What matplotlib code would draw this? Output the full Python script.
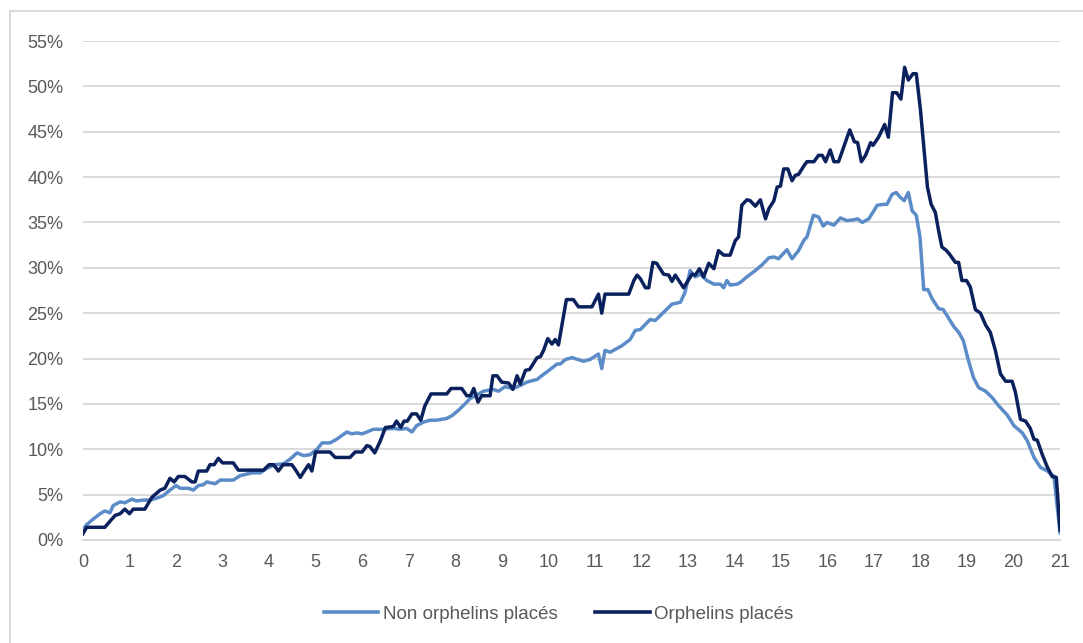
import matplotlib
matplotlib.use('Agg')
import matplotlib.pyplot as plt
from matplotlib.patches import Rectangle
from matplotlib.ticker import FuncFormatter, MultipleLocator

plt.rcParams['font.family'] = ['Liberation Sans Narrow', 'Liberation Sans', 'DejaVu Sans']

# Orphelins placés (en %)
orph_x = [0.0, 0.08, 0.47, 0.57, 0.69, 0.8, 0.9, 1.0, 1.08, 1.33, 1.48, 1.66, 1.76, 1.87, 1.96,
          2.05, 2.19, 2.34, 2.41, 2.48, 2.66, 2.73, 2.82, 2.91, 3.0, 3.23, 3.34, 3.88, 4.0, 4.1,
          4.2, 4.3, 4.49, 4.56, 4.67, 4.77, 4.85, 4.92, 5.0, 5.31, 5.42, 5.74, 5.85, 6.0, 6.1,
          6.17, 6.27, 6.39, 6.5, 6.67, 6.74, 6.83, 6.9, 6.97, 7.07, 7.17, 7.26, 7.35, 7.48, 7.82,
          7.91, 8.14, 8.25, 8.33, 8.4, 8.49, 8.57, 8.75, 8.81, 8.9, 9.0, 9.15, 9.24, 9.33, 9.4,
          9.51, 9.6, 9.76, 9.83, 9.9, 9.99, 10.08, 10.15, 10.22, 10.39, 10.54, 10.65, 10.94, 11.08,
          11.15, 11.22, 11.73, 11.84, 11.91, 11.98, 12.09, 12.16, 12.25, 12.33, 12.48, 12.59, 12.66,
          12.73, 12.91, 13.09, 13.16, 13.25, 13.34, 13.45, 13.56, 13.66, 13.77, 13.91, 14.02, 14.09,
          14.16, 14.27, 14.34, 14.45, 14.56, 14.67, 14.74, 14.85, 14.92, 14.99, 15.06, 15.15, 15.24,
          15.31, 15.38, 15.49, 15.56, 15.71, 15.81, 15.89, 15.96, 16.06, 16.14, 16.24, 16.35, 16.48,
          16.58, 16.65, 16.73, 16.82, 16.93, 16.98, 17.1, 17.23, 17.31, 17.4, 17.49, 17.58, 17.66,
          17.74, 17.84, 17.91, 18.0, 18.08, 18.15, 18.23, 18.32, 18.39, 18.46, 18.56, 18.64, 18.75,
          18.82, 18.89, 18.99, 19.07, 19.18, 19.29, 19.4, 19.5, 19.61, 19.72, 19.83, 19.97, 20.04,
          20.15, 20.26, 20.36, 20.44, 20.51, 20.62, 20.73, 20.83, 20.92, 21.0]
orph_y = [0.7, 1.4, 1.4, 2.0, 2.7, 2.9, 3.4, 2.9, 3.4, 3.4, 4.7, 5.5, 5.7, 6.8, 6.4,
          7.0, 7.0, 6.4, 6.4, 7.6, 7.6, 8.3, 8.3, 9.0, 8.5, 8.5, 7.7, 7.7, 8.3, 8.3,
          7.6, 8.3, 8.3, 7.8, 6.9, 7.7, 8.3, 7.6, 9.7, 9.7, 9.1, 9.1, 9.7, 9.7, 10.4,
          10.3, 9.6, 10.9, 12.4, 12.5, 13.1, 12.4, 13.1, 13.1, 13.9, 13.9, 13.2, 14.8, 16.1, 16.1,
          16.7, 16.7, 15.9, 15.9, 16.7, 15.2, 15.9, 15.9, 18.1, 18.1, 17.4, 17.3, 16.6, 18.1, 17.2,
          18.7, 18.8, 20.1, 20.2, 20.9, 22.2, 21.6, 22.1, 21.5, 26.5, 26.5, 25.7, 25.7, 27.1,
          25.0, 27.1, 27.1, 28.6, 29.2, 28.8, 27.8, 27.8, 30.6, 30.5, 29.3, 29.2, 28.5,
          29.2, 27.8, 29.3, 29.2, 29.9, 29.0, 30.5, 29.9, 31.9, 31.4, 31.4, 33.0, 33.4,
          36.9, 37.5, 37.4, 36.8, 37.5, 35.4, 36.5, 37.4, 38.9, 39.0, 40.9, 40.9, 39.6,
          40.2, 40.3, 41.2, 41.7, 41.7, 42.4, 42.4, 41.7, 43.0, 41.7, 41.7, 43.3, 45.2,
          43.9, 43.8, 41.7, 42.4, 43.8, 43.5, 44.4, 45.8, 44.4, 49.3, 49.3, 48.6, 52.1,
          50.7, 51.4, 51.4, 47.4, 42.9, 38.9, 37.0, 36.1, 34.1, 32.3, 31.9, 31.4, 30.6,
          30.6, 28.6, 28.6, 27.9, 25.4, 25.0, 23.7, 22.9, 20.9, 18.3, 17.5, 17.5, 16.3,
          13.3, 13.1, 12.3, 11.1, 11.0, 9.4, 8.0, 7.0, 6.9, 1.1]

# Non orphelins placés (en %)
non_orph_x = [0.0, 0.08, 0.22, 0.37, 0.47, 0.58, 0.65, 0.8, 0.9, 1.05, 1.15, 1.3, 1.44, 1.58, 1.73,
              1.87, 2.0, 2.09, 2.27, 2.37, 2.48, 2.59, 2.66, 2.84, 2.95, 3.23, 3.38, 3.63, 3.81, 3.95,
              4.13, 4.31, 4.45, 4.6, 4.74, 4.88, 5.03, 5.14, 5.31, 5.45, 5.67, 5.78, 5.89, 6.0, 6.1,
              6.24, 6.46, 6.67, 6.82, 6.96, 7.07, 7.17, 7.32, 7.46, 7.6, 7.82, 7.93, 8.07, 8.21, 8.32,
              8.47, 8.61, 8.82, 8.93, 9.07, 9.24, 9.43, 9.54, 9.76, 9.86, 10.04, 10.19, 10.26, 10.37,
              10.51, 10.76, 10.9, 11.08, 11.15, 11.22, 11.33, 11.58, 11.76, 11.87, 11.98, 12.19, 12.3,
              12.48, 12.66, 12.84, 12.94, 13.05, 13.16, 13.27, 13.41, 13.56, 13.7, 13.77, 13.84, 13.91,
              14.06, 14.13, 14.27, 14.45, 14.59, 14.74, 14.85, 14.95, 15.13, 15.24, 15.38, 15.49, 15.56,
              15.7, 15.81, 15.91, 15.99, 16.14, 16.28, 16.42, 16.57, 16.65, 16.75, 16.89, 17.0, 17.07,
              17.21, 17.28, 17.39, 17.48, 17.56, 17.65, 17.74, 17.82, 17.91, 17.99, 18.07, 18.16, 18.25,
              18.39, 18.49, 18.61, 18.72, 18.82, 18.92, 19.03, 19.14, 19.25, 19.4, 19.54, 19.68, 19.86,
              20.01, 20.19, 20.3, 20.44, 20.58, 20.73, 20.87, 21.0]
non_orph_y = [1.2, 1.7, 2.3, 2.9, 3.2, 3.0, 3.8, 4.2, 4.1, 4.5, 4.3, 4.4, 4.4, 4.6, 4.9,
              5.5, 6.0, 5.7, 5.7, 5.5, 6.0, 6.1, 6.4, 6.2, 6.6, 6.6, 7.1, 7.4, 7.4, 7.9,
              8.3, 8.4, 8.9, 9.6, 9.3, 9.4, 10.0, 10.7, 10.7, 11.1, 11.9, 11.7, 11.8, 11.7, 11.9,
              12.2, 12.2, 12.3, 12.2, 12.3, 11.9, 12.6, 13.0, 13.2, 13.2, 13.4, 13.7, 14.3, 15.0, 15.6,
              16.0, 16.4, 16.6, 16.4, 16.9, 16.7, 17.1, 17.4, 17.7, 18.1, 18.8, 19.4, 19.4, 19.9,
              20.1, 19.7, 19.9, 20.5, 18.9, 20.9, 20.7, 21.4, 22.1, 23.1, 23.2, 24.3, 24.2,
              25.1, 26.0, 26.2, 27.3, 29.7, 29.0, 29.3, 28.6, 28.2, 28.2, 27.8, 28.6, 28.1,
              28.2, 28.4, 29.0, 29.7, 30.3, 31.1, 31.2, 31.0, 32.0, 31.0, 31.9, 33.0, 33.4,
              35.8, 35.6, 34.6, 35.0, 34.7, 35.5, 35.2, 35.3, 35.4, 35.0, 35.4, 36.3, 36.9,
              37.0, 37.0, 38.1, 38.3, 37.8, 37.4, 38.3, 36.3, 35.8, 33.4, 27.6, 27.6, 26.6,
              25.5, 25.4, 24.4, 23.5, 22.9, 22.0, 19.8, 17.9, 16.8, 16.4, 15.7, 14.8, 13.8,
              12.6, 11.8, 10.9, 9.1, 8.0, 7.6, 7.0, 0.8]

fig = plt.figure(figsize=(10.83, 6.43), dpi=100)
ax = fig.add_axes([0.0766, 0.1602, 0.9022, 0.776])

grid_col = '#D9D9D9'
text_col = '#595959'

ax.plot(non_orph_x, non_orph_y, color='#5B8CC8', linewidth=2.5, label='Non orphelins placés', zorder=3)
ax.plot(orph_x, orph_y, color='#0A215E', linewidth=2.5, label='Orphelins placés', zorder=4)

ax.set_xlim(0, 21)
ax.set_ylim(0, 55)
ax.xaxis.set_major_locator(MultipleLocator(1))
ax.yaxis.set_major_locator(MultipleLocator(5))
ax.yaxis.set_major_formatter(FuncFormatter(lambda v, p: f'{v:.0f}%'))

ax.grid(axis='y', color=grid_col, linewidth=1.4)
ax.set_axisbelow(True)
for side in ['top', 'right', 'left']:
    ax.spines[side].set_visible(False)
ax.spines['bottom'].set_color(grid_col)
ax.spines['bottom'].set_linewidth(1.4)
ax.tick_params(axis='both', length=0, labelsize=13, labelcolor=text_col)
ax.tick_params(axis='y', pad=14)
ax.tick_params(axis='x', pad=10)

leg = ax.legend(loc='upper center', bbox_to_anchor=(0.487, -0.098), ncol=2, frameon=False,
                fontsize=13.5, handlelength=2.9, handletextpad=0.25, columnspacing=2.0)
for txt in leg.get_texts():
    txt.set_color(text_col)
for line in leg.get_lines():
    line.set_linewidth(2.6)

# cadre du graphique
fig.patches.append(Rectangle((9.5 / 1083, -0.1), 1.1, 1.1 - 11.5 / 643,
                             transform=fig.transFigure, fill=False,
                             edgecolor=grid_col, linewidth=1.4))

plt.savefig('out.png', dpi=100)
plt.close()
